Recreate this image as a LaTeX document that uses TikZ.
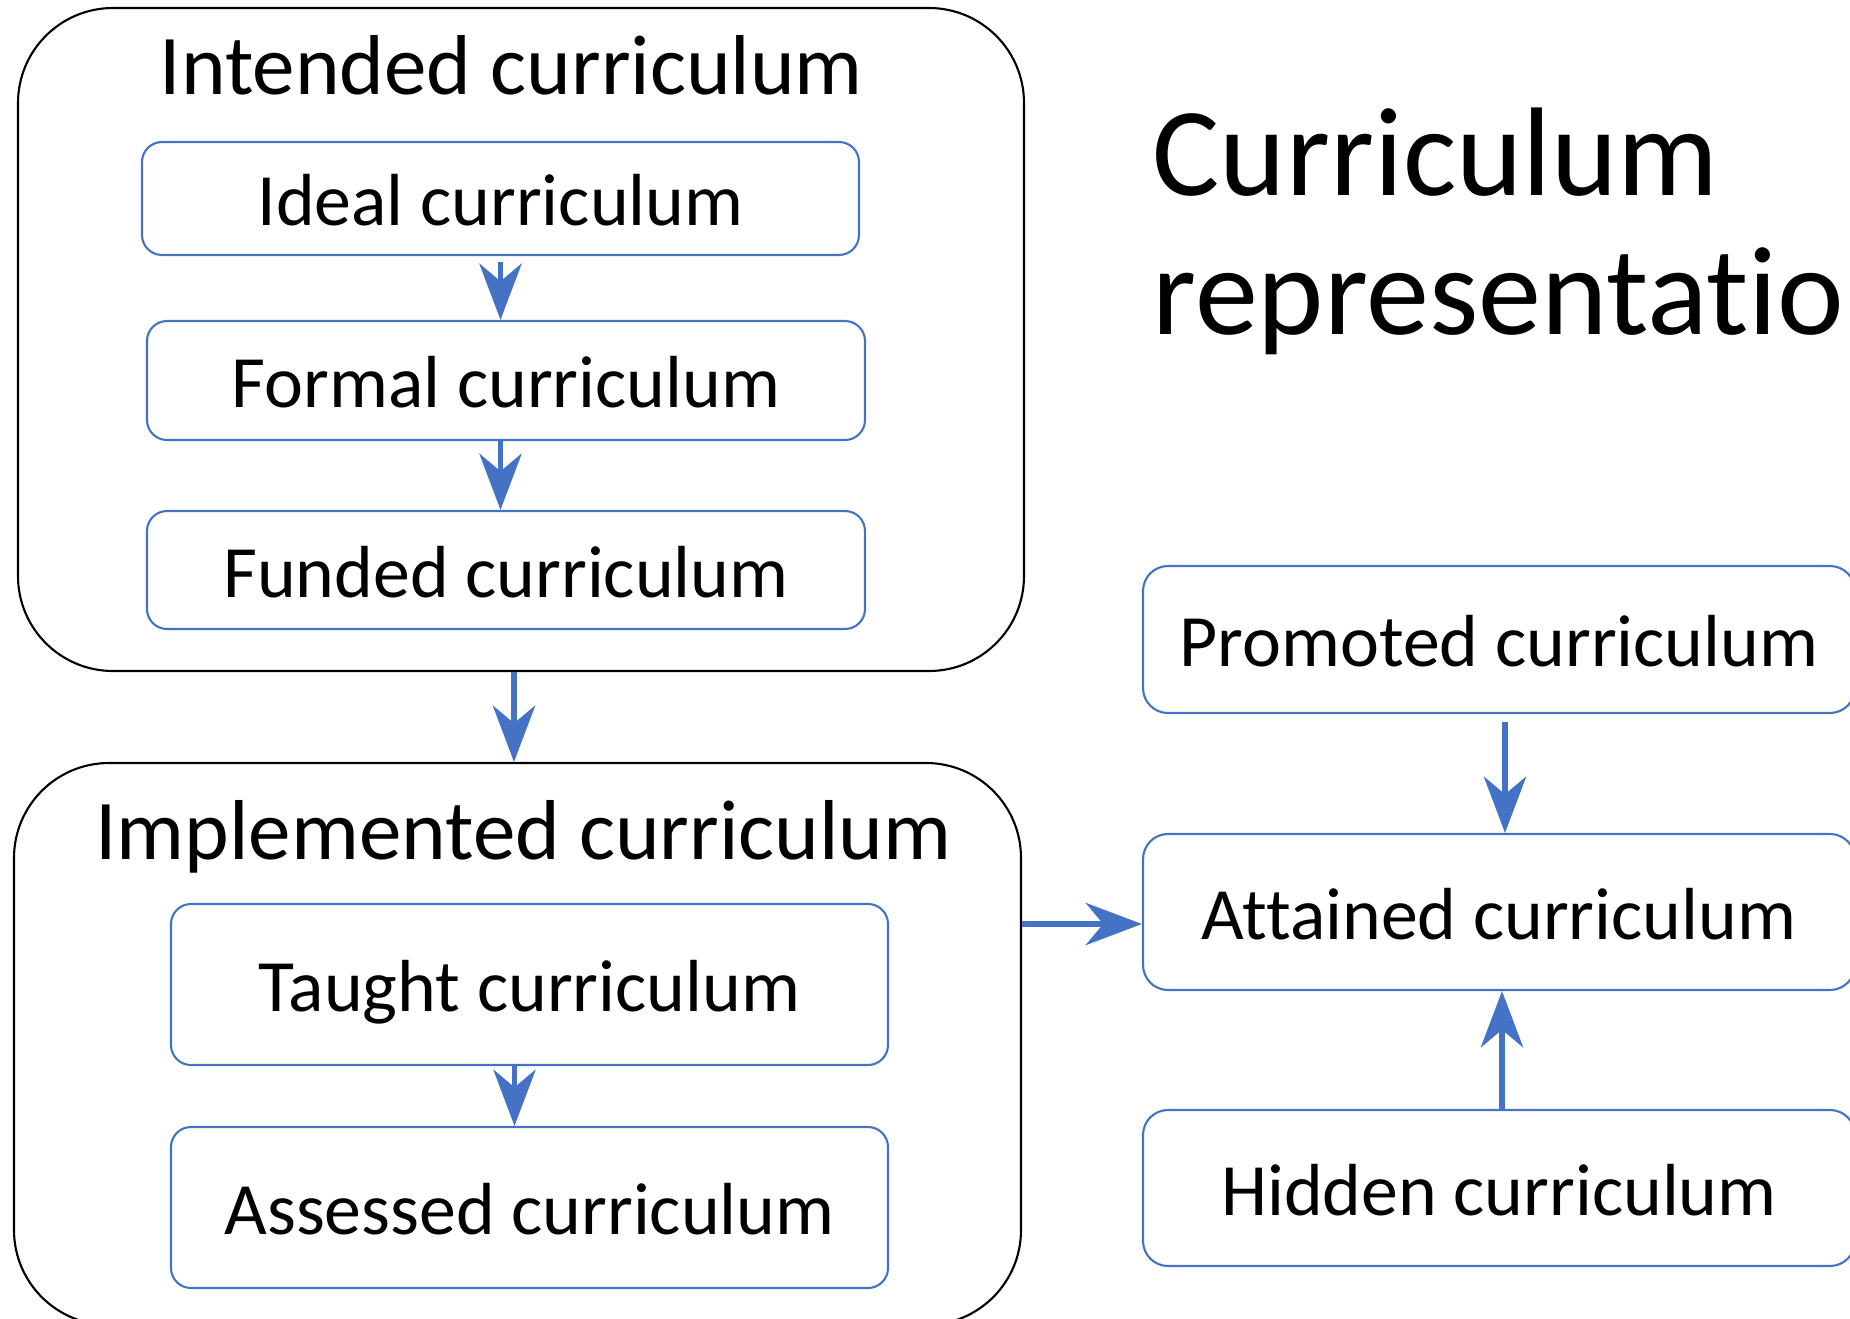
\documentclass[tikz,border=0pt]{standalone}
\usepackage{fontspec}
\setmainfont[Ligatures=NoCommon]{Carlito}
\usepackage[]{xcolor}
\usetikzlibrary{arrows.meta}
\definecolor{offblue}{HTML}{4472C4}

\begin{document}
\begin{tikzpicture}[y=-1cm,
        outerbox/.style={draw=black, line width=0.6pt, rounded corners=0.95cm, inner sep=0pt},
        innerbox/.style={draw=offblue, line width=0.6pt, rounded corners=0.2cm, inner sep=0pt,
            font=\fontsize{21}{25}\selectfont, text height=15.5pt, text depth=0pt},
        boxtitle/.style={anchor=base, inner sep=0pt, font=\fontsize{24.2}{29}\selectfont},
        flow/.style={draw=offblue, line width=1.7pt, -{Stealth[length=16pt,width=12pt,inset=5pt]}}]
        \path[use as bounding box, clip] (0,0) rectangle (18.5,13.19);

        \node[anchor=base west, align=left, inner sep=0pt, font=\fontsize{35.9}{39.5}\selectfont]
            (heading) at (11.52,3.34) {Curriculum\\representations};

        \node[outerbox, minimum width=10.06cm, minimum height=6.63cm] (intended) at (5.21,3.395) {};
        \node[boxtitle] (intendedtitle) at (5.115,0.94) {Intended curriculum};
        \node[innerbox, minimum width=7.17cm, minimum height=1.13cm] (ideal)  at (5.005,1.985) {Ideal curriculum};
        \node[innerbox, minimum width=7.18cm, minimum height=1.19cm] (formal) at (5.06,3.805) {Formal curriculum};
        \node[innerbox, minimum width=7.18cm, minimum height=1.18cm] (funded) at (5.06,5.70) {Funded curriculum};

        \node[outerbox, minimum width=10.07cm, minimum height=5.62cm] (implemented) at (5.175,10.44) {};
        \node[boxtitle] (implementedtitle) at (5.235,8.59) {Implemented curriculum};
        \node[innerbox, minimum width=7.17cm, minimum height=1.61cm] (taught)   at (5.295,9.845) {Taught curriculum};
        \node[innerbox, minimum width=7.17cm, minimum height=1.61cm] (assessed) at (5.295,12.075) {Assessed curriculum};

        \node[innerbox, rounded corners=0.25cm, minimum width=7.12cm, minimum height=1.47cm] (promoted) at (14.99,6.395) {Promoted curriculum};
        \node[innerbox, rounded corners=0.25cm, minimum width=7.12cm, minimum height=1.56cm] (attained) at (14.99,9.12) {Attained curriculum};
        \node[innerbox, rounded corners=0.25cm, minimum width=7.12cm, minimum height=1.56cm] (hidden)   at (14.99,11.88) {Hidden curriculum};

        \draw[flow, shorten <=0.06cm] (ideal.south) -- (ideal.south |- formal.north);
        \draw[flow] (ideal.south |- formal.south) -- (ideal.south |- funded.north);
        \draw[flow] ([xshift=-0.7mm]intended.south) -- ([xshift=-0.7mm]intended.south |- implemented.north);
        \draw[flow] ([xshift=-1.5mm]taught.south) -- ([xshift=-1.5mm]taught.south |- assessed.north);
        \draw[flow] ([yshift=-1.2mm]attained.west -| implemented.east) -- ([yshift=-1.2mm]attained.west);
        \draw[flow, shorten <=0.08cm] ([xshift=0.6mm]promoted.south) -- ([xshift=0.6mm]attained.north);
        \draw[flow] ([xshift=0.3mm]hidden.north) -- ([xshift=0.3mm]attained.south);
\end{tikzpicture}
\end{document}
